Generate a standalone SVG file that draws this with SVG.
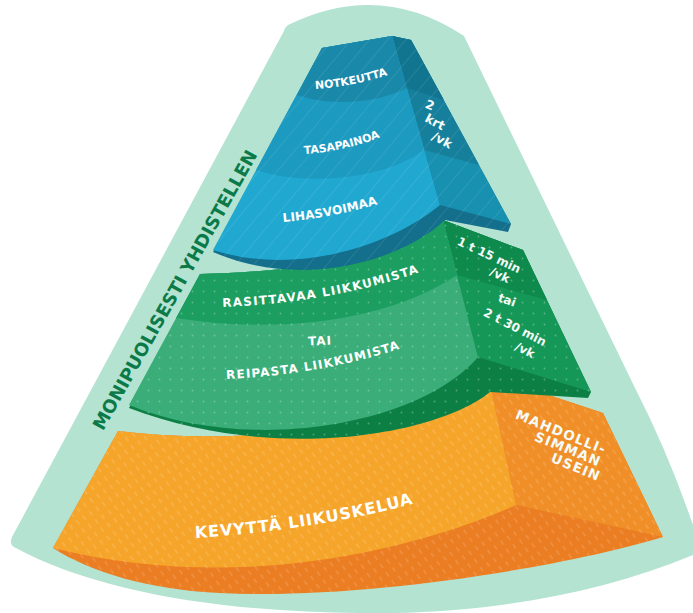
<svg xmlns="http://www.w3.org/2000/svg" width="693" height="613" viewBox="0 0 693 613">
<style>
.lbl{font-family:"DejaVu Sans","Liberation Sans",sans-serif;font-weight:bold;fill:#ffffff;}
.side{font-family:"DejaVu Sans","Liberation Sans",sans-serif;font-weight:bold;fill:#f4fbf8;font-size:12px;}
.title{font-family:"DejaVu Sans","Liberation Sans",sans-serif;font-weight:bold;fill:#0b7a48;font-size:18px;}
</style>
<defs>
<pattern id="pBlue" width="14" height="14" patternUnits="userSpaceOnUse" patternTransform="rotate(40)">
<line x1="0" y1="0" x2="0" y2="14" stroke="#ffffff" stroke-opacity="0.18" stroke-width="1"/>
</pattern>
<pattern id="pGreen" width="11" height="11" patternUnits="userSpaceOnUse">
<circle cx="5.5" cy="5.5" r="0.9" fill="#ffffff" fill-opacity="0.28"/>
</pattern>
<pattern id="pOrange" width="8" height="10" patternUnits="userSpaceOnUse" patternTransform="rotate(-35)">
<line x1="4" y1="0" x2="4" y2="5" stroke="#ffffff" stroke-opacity="0.2" stroke-width="1.2"/>
</pattern>
<path id="tpNot" d="M315,89 Q350,87 388,75"/>
<path id="tpTas" d="M303,154 Q342,152 381,137"/>
<path id="tpLih" d="M283,222 Q330,218 378,204"/>
<path id="tpRas" d="M222,307 Q330,303 420,272"/>
<path id="tpRei" d="M225,379 Q320,375 402,348"/>
<path id="tpKev" d="M193,538 Q310,531 416,503"/>
</defs>

<g id="background">
<path d="M288,25 Q380,-20 464,36 L636,390 Q672,460 700,546 L700,552 C600,595 480,615 360,613 C230,612 100,594 14,547 Q9,544 12,537 L284,31 Q285,27 288,25 Z" fill="#b4e3d2"/>
<text class="title" x="0" y="0" dy=".35em" text-anchor="middle" transform="translate(175,290) rotate(-60.8)">MONIPUOLISESTI YHDISTELLEN</text>
</g>

<g id="tier-orange">
<path d="M118,431 C240,446 390,430 488,375 L603,413 L663,537 C560,568 360,600 220,593 C150,590 90,572 53,548 Z" fill="#eb7d22"/>
<path d="M488,375 L603,413 L663,537 L516,505 Z" fill="#f08f27"/>
<path d="M118,431 C240,446 390,430 488,375 L516,505 C420,548 240,595 53,548 Z" fill="#f6a52b"/>
<path d="M118,431 C240,446 390,430 488,375 L603,413 L663,537 C560,568 360,600 220,593 C150,590 90,572 53,548 Z" fill="url(#pOrange)"/>
<text class="lbl" font-size="16" letter-spacing="1"><textPath href="#tpKev" startOffset="50%" text-anchor="middle">KEVYTTÄ LIIKUSKELUA</textPath></text>
<g class="side" style="font-size:13.5px" letter-spacing="1.2">
<text x="0" y="0" dy=".35em" text-anchor="middle" transform="translate(561,432) rotate(22)">MAHDOLLI-</text>
<text x="0" y="0" dy=".35em" text-anchor="middle" transform="translate(568,449) rotate(22)">SIMMAN</text>
<text x="0" y="0" dy=".35em" text-anchor="middle" transform="translate(576,467) rotate(22)">USEIN</text>
</g>
</g>

<g id="tier-green">
<path d="M200,274 C300,272 400,256 443,220 L523,250 L591,392 L588,398 L490,392 C440,433 280,465 129,408 Z" fill="#0c7f45"/>
<path d="M443,220 L523,250 L591,392 L478,357 Z" fill="#159757"/>
<path d="M443,220 L523,250 L547,300 L457,275 Z" fill="#0e8a4d"/>
<path d="M200,274 C300,272 400,256 443,220 L478,357 C420,425 250,455 129,405 Z" fill="#3aad79"/>
<path d="M200,274 C300,272 400,256 443,220 L457,275 C390,320 280,335 176,318 Z" fill="#1b9e60"/>
<path d="M200,274 C300,272 400,256 443,220 L523,250 L591,392 L588,398 L490,392 C440,433 280,465 129,408 Z" fill="url(#pGreen)"/>
<text class="lbl" font-size="12" letter-spacing="1.25"><textPath href="#tpRas" startOffset="50%" text-anchor="middle">RASITTAVAA LIIKKUMISTA</textPath></text>
<text class="lbl" font-size="12" letter-spacing="1" x="320" y="345" text-anchor="middle" transform="rotate(-3 320 340)">TAI</text>
<text class="lbl" font-size="12" letter-spacing="1.15"><textPath href="#tpRei" startOffset="50%" text-anchor="middle">REIPASTA LIIKKUMISTA</textPath></text>
<g class="side">
<text x="0" y="0" dy=".35em" text-anchor="middle" transform="translate(489,255) rotate(25)">1 t 15 min</text>
<text x="0" y="0" dy=".35em" text-anchor="middle" transform="translate(500,275) rotate(25)">/vk</text>
<text x="0" y="0" dy=".35em" text-anchor="middle" transform="translate(507,300) rotate(20)">tai</text>
<text x="0" y="0" dy=".35em" text-anchor="middle" transform="translate(515,327) rotate(27)">2 t 30 min</text>
<text x="0" y="0" dy=".35em" text-anchor="middle" transform="translate(525,350) rotate(27)">/vk</text>
</g>
</g>

<g id="tier-blue">
<path d="M322,48 L392,36 L411,40 L511,224 L508,232 L445,220 C400,262 300,290 213,252 Z" fill="#136f8c"/>
<path d="M392,36 L411,40 L511,224 L440,205 Z" fill="#1890b0"/>
<path d="M392,36 L411,40 L479,165 L424,150 Z" fill="#167f9c"/>
<path d="M392,36 L411,40 L444,100 L407,88 Z" fill="#127590"/>
<path d="M322,48 L392,36 L440,205 C385,250 290,275 213,250 Z" fill="#21a8d1"/>
<path d="M322,48 L392,36 L424,150 C380,182 300,185 256,170 Z" fill="#1c9abf"/>
<path d="M322,48 L392,36 L407,88 C375,104 330,106 297,95 Z" fill="#1a88a9"/>
<path d="M322,48 L392,36 L411,40 L511,224 L508,232 L445,220 C400,262 300,290 213,252 Z" fill="url(#pBlue)"/>
<text class="lbl" font-size="11"><textPath href="#tpNot" startOffset="50%" text-anchor="middle">NOTKEUTTA</textPath></text>
<text class="lbl" font-size="11"><textPath href="#tpTas" startOffset="50%" text-anchor="middle">TASAPAINOA</textPath></text>
<text class="lbl" font-size="12" letter-spacing="0.2"><textPath href="#tpLih" startOffset="50%" text-anchor="middle">LIHASVOIMAA</textPath></text>
<g class="side" style="font-size:12.5px">
<text x="0" y="0" dy=".35em" text-anchor="middle" transform="translate(430,105) rotate(22)">2</text>
<text x="0" y="0" dy=".35em" text-anchor="middle" transform="translate(435,122) rotate(28)">krt</text>
<text x="0" y="0" dy=".35em" text-anchor="middle" transform="translate(442,140) rotate(28)">/vk</text>
</g>
</g>

<g id="connectors"/>
</svg>
